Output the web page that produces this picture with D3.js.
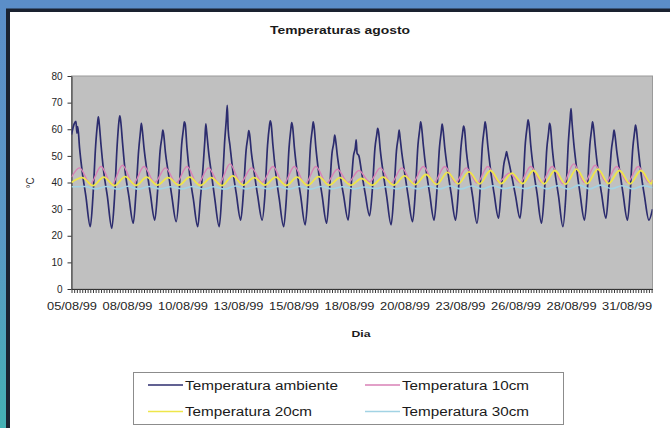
<!DOCTYPE html>
<html><head><meta charset="utf-8">
<script src="https://cdn.jsdelivr.net/npm/d3@7"></script>
<style>html,body{margin:0;padding:0;background:#fff;} svg{display:block;}</style>
</head><body>
<svg id="c" width="670" height="428"></svg>
<script>
// ---------- data ----------
const titulo = "Temperaturas agosto";
const tituloX = "Dia";
const tituloY = "°C";
const etiquetasX = ["05/08/99","08/08/99","10/08/99","13/08/99","15/08/99","18/08/99","20/08/99","23/08/99","26/08/99","28/08/99","31/08/99"];
const horasEntreEtiquetas = 62;       // category axis: a label every 62 hourly readings
const totalHoras = 649;               // hourly readings, starting 05/08/99
const ticksY = [0,10,20,30,40,50,60,70,80];
const nombresSeries = ["Temperatura ambiente","Temperatura 10cm","Temperatura 20cm","Temperatura 30cm"];

// hour of the first daily maximum, and hour offsets (around each daily maximum) of the readings listed below
const horaPrimerPico = 6;
const desfasesAmbiente = [-6,-3,-1,0,1,3,6,10,15];
const ambiente = [
  [58,62,63,58.5,61,53,44,35,23.4],
  [35,54,62,64.7,62,54,44,35,22.8],
  [34,54,63,65,63,55,44,35,24.7],
  [36,52,59,62.2,60,53,45,36,25.9],
  [36,52,57,59.7,58,51,44,35,25.3],
  [35,54,60,62.8,62,53,43,34,23.4],
  [34,46,56,62,59,52,44,34,23.4],
  [36,55,64,69,60,54,45,36,25.9],
  [36,52,57,59.5,58,51,44,35,25.9],
  [35,54,61,63.2,62,54,44,34,23.4],
  [34,53,60,62.5,61,53,44,35,24.1],
  [35,54,60,62.8,61,53,44,35,24.7],
  [36,51,55,57.8,56,50,43,35,25.9],
  [37,50,53,56,51,50,44,36,27.5],
  [37,53,58,60.3,59,52,44,35,24.1],
  [35,52,57,59.7,57,51,44,35,25.3],
  [36,54,60,62.8,61,54,45,36,25.9],
  [36,53,59,61.9,60,53,45,36,25.9],
  [36,53,59,61.2,60,52,44,35,24.7],
  [35,54,60,62.8,61,54,45,36,26.6],
  [37,47,50,51.6,50,47,42,35,26.6],
  [37,55,61,63.5,62,54,45,36,24.7],
  [35,53,59,62.2,61,53,44,35,23.4],
  [34,55,64,67.8,63,55,46,36,25.9],
  [36,54,60,62.8,61,54,45,36,26.6],
  [37,52,57,59.7,58,52,45,36,25.9],
  [36,53,59,61.6,60,53,44,35,25.9]
];
const ambienteUltima = 30;

// soil temperatures: [daily max, following min]; lag (h) of the max after the air max
const retraso10 = 3, retraso20 = 6, retraso30 = 9;
const suelo10Inicio = 42, suelo10Fin = 41;
const suelo10 = [[45.5,39.5],[46,39.2],[46.5,39.5],[46,40],[45.5,39.8],[46,39.5],[45.5,39.5],[47,40],[45.5,40],[46,39.5],[46,39.5],[46,39.8],[45,40],[44.5,40.2],[45.5,39.8],[45.5,39.8],[46,40],[46,40],[45.5,39.8],[46,40.2],[43.5,40],[46,40],[46,39.5],[47,40],[46.5,40.2],[46,40],[46,40]];
const suelo20Inicio = 40, suelo20Fin = 41;
const suelo20 = [[41.8,38.8],[42,38.8],[42.2,38.9],[42,39],[41.8,39],[42,38.9],[41.8,38.8],[42.5,39],[41.8,39],[42,38.9],[42,38.9],[42.2,39],[41.8,39],[41.5,39],[42,39],[42.5,39.2],[43,39.3],[43.8,39.5],[44,39.5],[44.5,39.6],[43.5,39.6],[44.5,39.5],[44.5,39.4],[45,39.6],[45,39.6],[44.5,39.5],[44.5,39.5]];
const suelo30Inicio = 38.4, suelo30Fin = 38;
const suelo30 = [[38.5,37.6],[38.5,37.5],[38.6,37.5],[38.5,37.6],[38.4,37.6],[38.5,37.5],[38.4,37.5],[38.7,37.6],[38.4,37.6],[38.5,37.5],[38.5,37.5],[38.5,37.6],[38.4,37.6],[38.3,37.7],[38.4,37.6],[38.5,37.6],[38.6,37.6],[38.7,37.6],[38.7,37.6],[38.8,37.7],[38.4,37.7],[38.8,37.6],[38.8,37.5],[39,37.6],[39,37.7],[38.8,37.6],[38.8,37.6]];

// ---------- build series ----------
function serieAmbiente(){
  const pts=[];
  ambiente.forEach((fila,d)=>fila.forEach((v,j)=>pts.push({h:horaPrimerPico+24*d+desfasesAmbiente[j],v})));
  pts.push({h:totalHoras,v:ambienteUltima});
  return pts.filter(p=>p.h>=0&&p.h<=totalHoras);
}
function serieSuelo(arr,retraso,ini,fin){
  const pts=[{h:0,v:ini}];
  arr.forEach((mm,d)=>{
    pts.push({h:horaPrimerPico+24*d+retraso,v:mm[0]});
    pts.push({h:horaPrimerPico+24*d+retraso+12,v:mm[1]});
  });
  const f=pts.filter(p=>p.h>=0&&p.h<totalHoras);
  f.push({h:totalHoras,v:fin});
  return f;
}
const series=[
  {name:nombresSeries[0],pts:serieAmbiente(),color:"#2c2c6e",w:1.7},
  {name:nombresSeries[1],pts:serieSuelo(suelo10,retraso10,suelo10Inicio,suelo10Fin),color:"#d981b6",w:1.4},
  {name:nombresSeries[2],pts:serieSuelo(suelo20,retraso20,suelo20Inicio,suelo20Fin),color:"#eee64a",w:1.8},
  {name:nombresSeries[3],pts:serieSuelo(suelo30,retraso30,suelo30Inicio,suelo30Fin),color:"#a2d3e4",w:1.6}
];

// ---------- drawing ----------
const svg=d3.select("#c");
const font="'Liberation Sans', Arial, sans-serif";
const defs=svg.append("defs");
const g1=defs.append("linearGradient").attr("id","bg").attr("x1",0).attr("y1",0).attr("x2",0).attr("y2",1);
g1.append("stop").attr("offset","0%").attr("stop-color","#5b8ec8");
g1.append("stop").attr("offset","55%").attr("stop-color","#5a98c6");
g1.append("stop").attr("offset","100%").attr("stop-color","#44b0b4");
svg.append("rect").attr("width",670).attr("height",428).attr("fill","url(#bg)");
svg.append("rect").attr("x",6).attr("y",8.5).attr("width",664).attr("height",420).attr("fill","#1a2230");
svg.append("rect").attr("x",10).attr("y",12).attr("width",660).attr("height",416).attr("fill","#ffffff");

const M={l:71.5,r:652.5,t:76,b:289};
const x=d3.scaleLinear().domain([0,totalHoras]).range([M.l,M.r]);
const y=d3.scaleLinear().domain([0,80]).range([M.b,M.t]);

svg.append("rect").attr("x",M.l).attr("y",M.t).attr("width",M.r-M.l).attr("height",M.b-M.t)
  .attr("fill","#c0c0c0").attr("stroke","#9a9a9a").attr("stroke-width",1);

// title
svg.append("text").attr("x",340).attr("y",34).attr("text-anchor","middle")
  .attr("font-family",font).attr("font-weight","bold").attr("font-size",10).attr("fill","#1a1a1a")
  .attr("textLength",140).attr("lengthAdjust","spacingAndGlyphs").text(titulo);

// y axis
const ay=svg.append("g").attr("transform",`translate(${M.l},0)`)
  .call(d3.axisLeft(y).tickValues(ticksY).tickSize(4).tickPadding(5).tickSizeOuter(0));
ay.select(".domain").attr("stroke","#333");
ay.selectAll(".tick line").attr("stroke","#333");
ay.selectAll("text").attr("font-family",font).attr("font-size",10).attr("fill","#262626");

svg.append("text").attr("transform","translate(34,183) rotate(-90)").attr("text-anchor","middle")
  .attr("font-family",font).attr("font-size",10).attr("fill","#333").text(tituloY);

// lines
const clip=defs.append("clipPath").attr("id","pc");
clip.append("rect").attr("x",M.l).attr("y",M.t).attr("width",M.r-M.l).attr("height",M.b-M.t);
const line=d3.line().x(d=>x(d.h)).y(d=>y(d.v)).curve(d3.curveMonotoneX);
const gl=svg.append("g").attr("clip-path","url(#pc)");
series.forEach(s=>{
  gl.append("path").datum(s.pts).attr("d",line).attr("fill","none")
    .attr("stroke",s.color).attr("stroke-width",s.w).attr("stroke-linejoin","round");
});

// x axis: dense category ticks
const ax=svg.append("g").attr("transform",`translate(0,${M.b})`)
  .call(d3.axisBottom(x).tickValues(d3.range(0,totalHoras+1,3)).tickSize(4).tickFormat("").tickSizeOuter(0));
ax.select(".domain").attr("stroke","#333");
ax.selectAll(".tick line").attr("stroke","#3a3a3a");
// labels
const horasEtiqueta=etiquetasX.map((_,i)=>i*horasEntreEtiquetas);
const axl=svg.append("g").attr("transform",`translate(0,${M.b})`)
  .call(d3.axisBottom(x).tickValues(horasEtiqueta).tickSize(0).tickPadding(14).tickFormat((d,i)=>etiquetasX[i]));
axl.select(".domain").remove();
axl.selectAll("text").attr("font-family",font).attr("font-size",10).attr("fill","#262626")
  .attr("textLength",50).attr("lengthAdjust","spacingAndGlyphs");

svg.append("text").attr("x",361).attr("y",337).attr("text-anchor","middle")
  .attr("font-family",font).attr("font-weight","bold").attr("font-size",9).attr("fill","#1a1a1a")
  .attr("textLength",19).attr("lengthAdjust","spacingAndGlyphs").text(tituloX);

// legend
svg.append("rect").attr("x",133.5).attr("y",372.5).attr("width",430).attr("height",52)
  .attr("fill","#fff").attr("stroke","#8c8c8c");
const legPos=[[148,385],[365,385],[148,411.5],[365,411.5]];
series.forEach((s,i)=>{
  const [lx,ly]=legPos[i];
  svg.append("line").attr("x1",lx).attr("x2",lx+35).attr("y1",ly).attr("y2",ly)
    .attr("stroke",s.color).attr("stroke-width",1.5);
  svg.append("text").attr("x",lx+37).attr("y",ly+4.5)
    .attr("font-family",font).attr("font-size",12).attr("fill","#1a1a1a")
    .attr("textLength",i===0?153:127).attr("lengthAdjust","spacingAndGlyphs").text(s.name);
});
</script>
</body></html>
